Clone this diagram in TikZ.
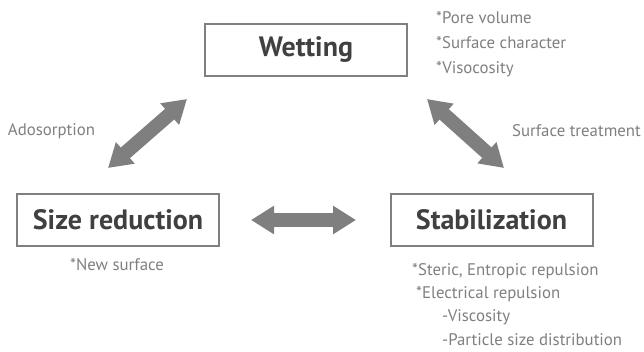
\documentclass[tikz,border=0pt]{standalone}
\usepackage{fontspec}
\setmainfont{PT Sans}
\usepackage{tikz}
\usetikzlibrary{arrows.meta, positioning}
\definecolor{boxgray}{HTML}{808080}
\definecolor{textdark}{HTML}{404040}
\definecolor{notegray}{HTML}{7F7F7F}
\tikzstyle{stage} = [rectangle, minimum width=202pt, minimum height=52pt, text centered, draw=boxgray, line width=2pt, text=textdark, font=\fontsize{28}{30}\selectfont\bfseries]
\tikzstyle{note} = [text=notegray, inner sep=0pt, align=left, font=\fontsize{16.8}{25}\selectfont]
\tikzstyle{bigarrow} = [draw=notegray, line width=14pt, {Triangle[width=27pt,length=23pt]}-{Triangle[width=27pt,length=23pt]}]

\begin{document}
\begin{tikzpicture}[x=1pt, y=-1pt]
\useasboundingbox (0,0) rectangle (644,351);
\node (wetting) [stage] at (306,50) {Wetting};
\node (sizered) [stage] at (118,220) {Size reduction};
\node (stabil) [stage] at (491.5,219.5) {Stabilization};

\node (wetnote) [note, anchor=north west] at (436,11) {*Pore volume\\*Surface character\\*Visocosity};
\node (newsurf) [note] at (117,265) {*New surface};
\node (stabnote) [note, anchor=north west, font=\fontsize{16.8}{23.3}\selectfont] at (412,263) {*Steric, Entropic repulsion\\
\hspace*{4pt}*Electrical repulsion\\
\hspace*{30pt}-Viscosity\\
\hspace*{30pt}-Particle size distribution};
\node (adsorb) [note] at (51.5,131) {Adosorption};
\node (surftreat) [note] at (576.5,131) {Surface treatment};

% arrow ends
\coordinate (sizeTop) at (108,168);
\coordinate (wetLeft) at (187,99);
\coordinate (wetRight) at (427,99);
\coordinate (stabTop) at (504,168);
\coordinate (sizeRight) at (251,220);
\coordinate (stabLeft) at (356,220);

\draw [bigarrow] (sizeTop) -- (wetLeft);
\draw [bigarrow] (wetRight) -- (stabTop);
\draw [bigarrow] (sizeRight) -- (stabLeft);
\end{tikzpicture}
\end{document}
